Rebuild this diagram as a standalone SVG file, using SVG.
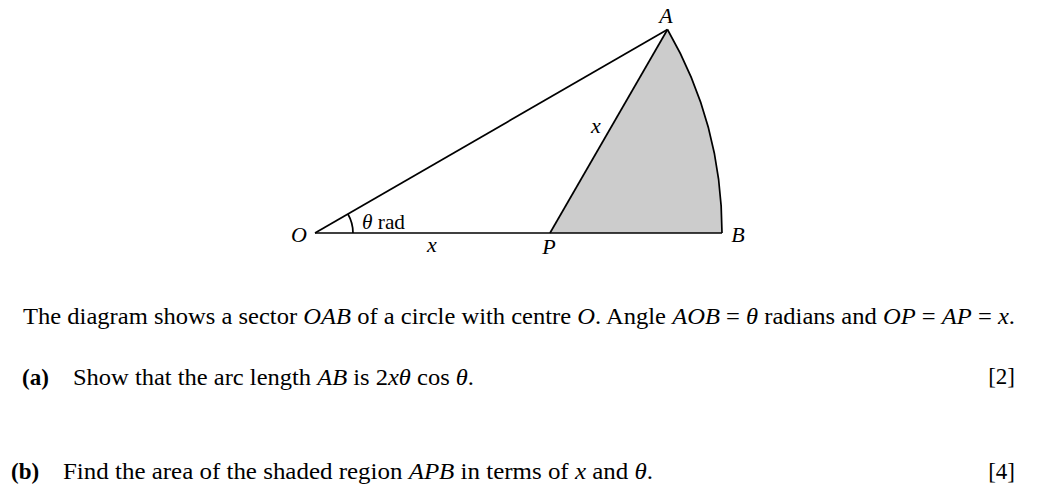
<svg xmlns="http://www.w3.org/2000/svg" width="1039" height="492" viewBox="0 0 1039 492">
<style>
text{font-family:"Liberation Serif","Times New Roman",serif;fill:#000}
.lbl{font-size:22px}
.it{font-style:italic}
.body{font-size:23px}
.b{font-weight:bold}
.ln{fill:none;stroke:#000;stroke-width:1.7;stroke-linejoin:round}
</style>
<rect width="1039" height="492" fill="#fff"/>
<g id="shaded-region">
<path d="M550 233 L667.5 29.5 A407 407 0 0 1 722 233 Z" fill="#cccccc"/>
</g>
<g id="connectors">
<path class="ln" d="M315 233 L667.5 29.5"/>
<path class="ln" d="M315 233 L722 233"/>
<path class="ln" d="M550 233 L667.5 29.5"/>
<path class="ln" d="M667.5 29.5 A407 407 0 0 1 722 233"/>
<path class="ln" d="M353 233 A38 38 0 0 0 347.9 214" stroke-width="1.2"/>
</g>
<g id="node-A"><text class="lbl it" x="666" y="23" text-anchor="middle">A</text></g>
<g id="node-O"><text class="lbl it" x="299" y="242" text-anchor="middle">O</text></g>
<g id="node-B"><text class="lbl it" x="738" y="242" text-anchor="middle">B</text></g>
<g id="node-P"><text class="lbl it" x="549" y="254" text-anchor="middle">P</text></g>
<g id="label-x-OP"><text class="lbl it" x="432" y="252" text-anchor="middle">x</text></g>
<g id="label-x-AP"><text class="lbl it" x="596" y="133" text-anchor="middle">x</text></g>
<g id="label-theta"><text class="lbl" x="362" y="229" textLength="43" lengthAdjust="spacingAndGlyphs"><tspan class="it">θ</tspan> rad</text></g>
<g id="question">
<text class="body" x="23" y="324" textLength="992" lengthAdjust="spacingAndGlyphs">The diagram shows a sector <tspan class="it">OAB</tspan> of a circle with centre <tspan class="it">O</tspan>.  Angle <tspan class="it">AOB</tspan> = <tspan class="it">θ</tspan> radians and <tspan class="it">OP</tspan> = <tspan class="it">AP</tspan> = <tspan class="it">x</tspan>.</text>
<text class="body b" x="22" y="385">(a)</text>
<text class="body" x="73" y="385" textLength="401" lengthAdjust="spacingAndGlyphs">Show that the arc length <tspan class="it">AB</tspan> is 2<tspan class="it">xθ</tspan> cos <tspan class="it">θ</tspan>.</text>
<text class="body" x="1015" y="384" text-anchor="end">[2]</text>
<text class="body b" x="11" y="479">(b)</text>
<text class="body" x="63" y="479" textLength="590" lengthAdjust="spacingAndGlyphs">Find the area of the shaded region <tspan class="it">APB</tspan> in terms of <tspan class="it">x</tspan> and <tspan class="it">θ</tspan>.</text>
<text class="body" x="1015" y="479" text-anchor="end">[4]</text>
</g>
</svg>
